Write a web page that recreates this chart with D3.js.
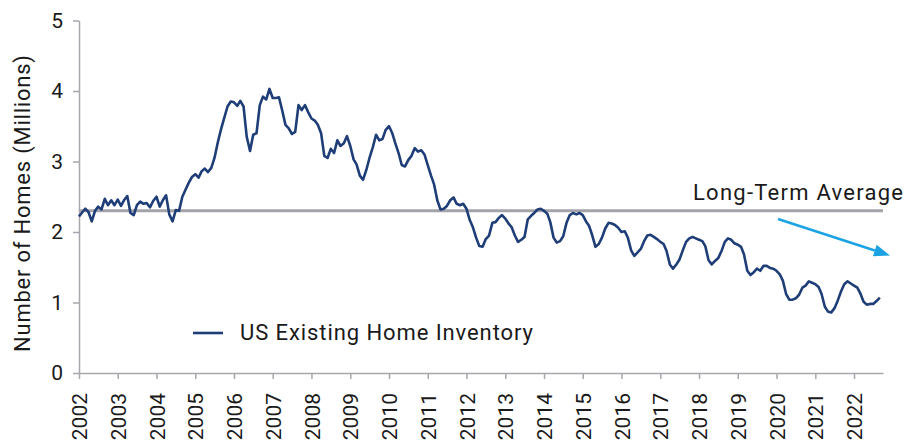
<!DOCTYPE html>
<html>
<head>
<meta charset="utf-8">
<script src="https://cdn.jsdelivr.net/npm/d3@7"></script>
<style>
  html, body { margin: 0; padding: 0; background: #fff; }
  svg { display: block; font-family: Roboto, "DejaVu Sans", sans-serif; }
</style>
</head>
<body>
<svg id="chart" width="908" height="443"></svg>
<script>
// ---- data ----
const startYear = 2002;
const inventory = [
  2.22, 2.28, 2.33, 2.28, 2.15, 2.30, 2.36, 2.32, 2.47, 2.38, 2.45, 2.38,
  2.46, 2.37, 2.45, 2.51, 2.27, 2.24, 2.38, 2.43, 2.40, 2.41, 2.35, 2.44,
  2.50, 2.36, 2.45, 2.52, 2.25, 2.15, 2.31, 2.30, 2.50, 2.60, 2.70, 2.78,
  2.82, 2.77, 2.86, 2.90, 2.85, 2.91, 3.05, 3.27, 3.46, 3.62, 3.78, 3.85,
  3.84, 3.79, 3.86, 3.78, 3.35, 3.15, 3.38, 3.40, 3.80, 3.92, 3.88, 4.03,
  3.90, 3.90, 3.91, 3.72, 3.52, 3.47, 3.39, 3.42, 3.80, 3.73, 3.80, 3.70,
  3.61, 3.58, 3.52, 3.40, 3.08, 3.05, 3.18, 3.12, 3.30, 3.22, 3.26, 3.36,
  3.22, 3.03, 2.96, 2.80, 2.74, 2.88, 3.05, 3.20, 3.38, 3.30, 3.32, 3.45,
  3.50, 3.40, 3.26, 3.12, 2.95, 2.93, 3.02, 3.08, 3.19, 3.14, 3.16, 3.10,
  2.95, 2.80, 2.68, 2.45, 2.32, 2.33, 2.37, 2.45, 2.49, 2.40, 2.38, 2.40,
  2.33, 2.17, 2.07, 1.92, 1.80, 1.79, 1.90, 1.95, 2.13, 2.14, 2.20, 2.24,
  2.19, 2.12, 2.07, 1.95, 1.86, 1.89, 1.93, 2.18, 2.23, 2.27, 2.32, 2.33,
  2.30, 2.26, 2.14, 1.92, 1.85, 1.87, 1.94, 2.13, 2.24, 2.27, 2.25, 2.27,
  2.24, 2.15, 2.09, 1.95, 1.79, 1.83, 1.92, 2.05, 2.13, 2.12, 2.10, 2.06,
  2.00, 2.01, 1.92, 1.74, 1.66, 1.71, 1.76, 1.87, 1.95, 1.96, 1.93, 1.90,
  1.86, 1.83, 1.73, 1.54, 1.48, 1.54, 1.61, 1.74, 1.86, 1.91, 1.93, 1.91,
  1.89, 1.87, 1.80, 1.60, 1.54, 1.59, 1.63, 1.73, 1.86, 1.91, 1.89, 1.84,
  1.82, 1.79, 1.68, 1.45, 1.39, 1.43, 1.48, 1.45, 1.52, 1.52, 1.49, 1.48,
  1.45, 1.40, 1.31, 1.12, 1.04, 1.04, 1.06, 1.11, 1.21, 1.24, 1.30, 1.28,
  1.26, 1.22, 1.12, 0.94, 0.87, 0.86, 0.92, 1.03, 1.16, 1.26, 1.30, 1.27,
  1.24, 1.21, 1.13, 1.01, 0.97, 0.98, 0.98, 1.02, 1.07
];
const longTermAverage = 2.30;
const yTicks = [0, 1, 2, 3, 4, 5];
const yearTicks = d3.range(2002, 2023);
const seriesName = "US Existing Home Inventory";
const averageLabel = "Long-Term Average";
const yTitle = "Number of Homes (Millions)";

// ---- layout ----
const svg = d3.select("#chart");
const margin = { left: 79, right: 25, top: 20.5, bottom: 70 };
const x = d3.scaleTime()
  .domain([new Date(2002, 0, 1), new Date(2022, 9, 1)])
  .range([margin.left, 883]);
const y = d3.scaleLinear().domain([0, 5]).range([373, margin.top]);

const data = inventory.map((v, i) => ({ date: new Date(startYear, i, 1), value: v }));

const axisColor = "#a7a7ad";
const textColor = "#1a1a1a";
const tickFont = 21;
const labelFont = 22;

// y axis
const gy = svg.append("g")
  .attr("transform", `translate(${margin.left},0)`)
  .call(d3.axisLeft(y).tickValues(yTicks).tickSize(6).tickSizeOuter(0).tickPadding(10).tickFormat(d3.format("d")));
gy.select(".domain").attr("stroke", axisColor).attr("stroke-width", 1.5);
gy.selectAll(".tick line").attr("stroke", axisColor).attr("stroke-width", 1.5);
gy.selectAll(".tick text").attr("fill", textColor).attr("font-size", tickFont)
  .attr("font-family", "Roboto, sans-serif");

// x axis
const gx = svg.append("g")
  .attr("transform", `translate(0,${y(0)})`)
  .call(d3.axisBottom(x).tickValues(yearTicks.map(yr => new Date(yr, 0, 1))).tickSize(6).tickSizeOuter(0).tickFormat(d3.timeFormat("%Y")));
gx.select(".domain").attr("stroke", axisColor).attr("stroke-width", 1.5);
gx.selectAll(".tick line").attr("stroke", axisColor).attr("stroke-width", 1.5);
gx.selectAll(".tick text")
  .attr("fill", textColor).attr("font-size", tickFont).attr("font-family", "Roboto, sans-serif")
  .attr("transform", "rotate(-90)")
  .attr("text-anchor", "end")
  .attr("x", -20).attr("y", 0).attr("dy", "0.36em");

// long-term average
svg.append("line")
  .attr("x1", x(new Date(2002, 0, 1))).attr("x2", x(new Date(2022, 9, 1)))
  .attr("y1", y(longTermAverage)).attr("y2", y(longTermAverage))
  .attr("stroke", "#a3a3aa").attr("stroke-width", 3);

// series line
svg.append("path")
  .datum(data)
  .attr("fill", "none")
  .attr("stroke", "#1f3e78")
  .attr("stroke-width", 2.6)
  .attr("stroke-linejoin", "round")
  .attr("d", d3.line().x(d => x(d.date)).y(d => y(d.value)));

// y title
svg.append("text")
  .attr("transform", `translate(30,203.5) rotate(-90)`)
  .attr("text-anchor", "middle")
  .attr("fill", textColor).attr("font-size", labelFont)
  .attr("textLength", 297).attr("lengthAdjust", "spacing")
  .text(yTitle);

// average label
svg.append("text")
  .attr("x", 693).attr("y", 200)
  .attr("fill", textColor).attr("font-size", labelFont)
  .attr("textLength", 210).attr("lengthAdjust", "spacing")
  .text(averageLabel);

// arrow
const arrowColor = "#1ba3e3";
const ax1 = 778, ay1 = 219, ax2 = 890, ay2 = 255.5;
const ang = Math.atan2(ay2 - ay1, ax2 - ax1);
const headLen = 16, headW = 6;
const bx = ax2 - headLen * Math.cos(ang), by = ay2 - headLen * Math.sin(ang);
svg.append("line")
  .attr("x1", ax1).attr("y1", ay1).attr("x2", bx).attr("y2", by)
  .attr("stroke", arrowColor).attr("stroke-width", 2.5);
svg.append("path")
  .attr("d", `M${ax2},${ay2} L${bx + headW * Math.sin(ang)},${by - headW * Math.cos(ang)} L${bx - headW * Math.sin(ang)},${by + headW * Math.cos(ang)} Z`)
  .attr("fill", arrowColor);

// legend
svg.append("line")
  .attr("x1", 193).attr("x2", 223).attr("y1", 333).attr("y2", 333)
  .attr("stroke", "#1f3e78").attr("stroke-width", 2.6);
svg.append("text")
  .attr("x", 240).attr("y", 340)
  .attr("fill", textColor).attr("font-size", labelFont)
  .attr("textLength", 293).attr("lengthAdjust", "spacing")
  .text(seriesName);
</script>
</body>
</html>
